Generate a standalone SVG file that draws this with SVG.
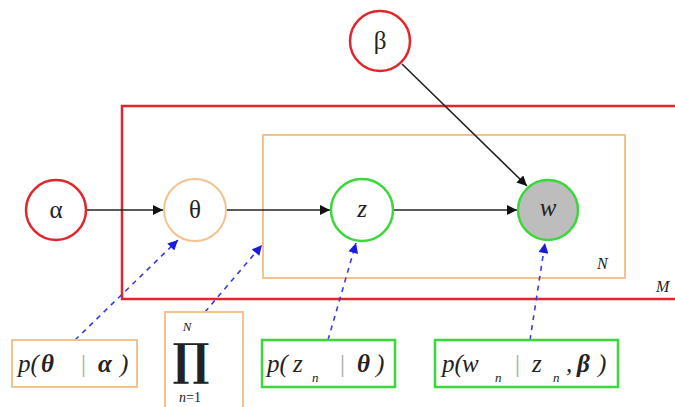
<svg xmlns="http://www.w3.org/2000/svg" width="675" height="407" viewBox="0 0 675 407">
<defs>
<style>
text{font-family:"Liberation Serif",serif}
.red{fill:#fff;stroke:#e0262c;stroke-width:2.5}
.ora{fill:none;stroke:#f4c28e;stroke-width:2}
.grn{fill:#fff;stroke:#3ad83a;stroke-width:2.5}
.lbl{fill:#222}
.sym{font-size:25px;text-anchor:middle}
.it{font-style:italic}
.bf{font-weight:bold;font-style:italic}
.f{font-size:25px;font-style:italic}
.sub{font-size:13px;font-style:italic}
.bar{fill:#aaa;font-style:normal}
.solid{stroke:#222;stroke-width:1.6;fill:none;marker-end:url(#ah)}
.dash{stroke:#3a3ae8;stroke-width:1.6;stroke-dasharray:5 5;fill:none;marker-end:url(#bh)}
.prod{font-size:44px;font-weight:bold;font-family:"DejaVu Serif",serif}
</style>
<marker id="ah" viewBox="0 0 10 10" refX="10" refY="5" markerWidth="13" markerHeight="10" markerUnits="userSpaceOnUse" orient="auto"><path d="M0,0 L10,5 L0,10 z" fill="#111"/></marker>
<marker id="bh" viewBox="0 0 10 10" refX="10" refY="5" markerWidth="13" markerHeight="10" markerUnits="userSpaceOnUse" orient="auto"><path d="M0,0 L10,5 L0,10 z" fill="#1a1ae0"/></marker>
</defs>
<rect width="675" height="407" fill="#fff"/>
<g id="plate-M">
<rect x="122" y="106" width="556" height="193" fill="none" stroke="#e0262c" stroke-width="2.5"/>
<text class="lbl it" x="656" y="292" font-size="16">M</text>
</g>
<g id="plate-N">
<rect class="ora" x="263" y="135" width="362" height="143"/>
<text class="lbl it" x="597" y="269" font-size="16">N</text>
</g>
<g id="connectors">
<line class="solid" x1="87" y1="210" x2="163" y2="210"/>
<line class="solid" x1="226" y1="210" x2="330" y2="210"/>
<line class="solid" x1="393" y1="210" x2="517" y2="210"/>
<line class="solid" x1="402" y1="64" x2="527" y2="186"/>
<line class="dash" x1="75" y1="340" x2="178" y2="240"/>
<line class="dash" x1="205" y1="312" x2="262" y2="245"/>
<line class="dash" x1="328" y1="340" x2="356" y2="243"/>
<line class="dash" x1="530" y1="340" x2="545" y2="243"/>
</g>
<g id="node-alpha">
<circle class="red" cx="56" cy="210" r="30"/>
<text class="lbl sym" x="56" y="218">α</text>
</g>
<g id="node-beta">
<circle class="red" cx="380" cy="41" r="30"/>
<text class="lbl sym" x="380" y="49">β</text>
</g>
<g id="node-theta">
<circle cx="195" cy="210" r="31" fill="#fff" stroke="#f4c28e" stroke-width="2"/>
<text class="lbl sym" x="195" y="218">θ</text>
</g>
<g id="node-z">
<circle class="grn" cx="362" cy="210" r="31"/>
<text class="lbl sym it" x="362" y="217">z</text>
</g>
<g id="node-w">
<circle cx="548" cy="210" r="30" fill="#bdbdbd" stroke="#3ad83a" stroke-width="2.5"/>
<text class="lbl sym it" x="548" y="216" font-size="20">w</text>
</g>
<g id="formula-theta">
<rect x="12" y="340" width="125" height="47" fill="#fff" stroke="#f4c28e" stroke-width="2"/>
<text class="lbl f" y="372"><tspan x="18">p(</tspan><tspan class="bf" x="41">θ</tspan><tspan class="bar" x="81">|</tspan><tspan class="bf" x="98">α</tspan><tspan x="120">)</tspan></text>
</g>
<g id="formula-prod">
<rect x="165" y="312" width="78" height="100" fill="#fff" stroke="#f4c28e" stroke-width="2"/>
<text class="lbl it" x="187" y="331" font-size="13" text-anchor="middle">N</text>
<text class="lbl prod" x="191" y="375" text-anchor="middle">∏</text>
<text class="lbl" x="190" y="402" font-size="14" text-anchor="middle"><tspan class="it">n</tspan>=1</text>
</g>
<g id="formula-z">
<rect x="262" y="340" width="133" height="47" fill="#fff" stroke="#3ad83a" stroke-width="2.5"/>
<text class="lbl f" y="372"><tspan x="267">p(</tspan><tspan x="293">z</tspan><tspan class="sub" x="312" y="382">n</tspan><tspan class="bar" x="340" y="372">|</tspan><tspan class="bf" x="357">θ</tspan><tspan x="376">)</tspan></text>
</g>
<g id="formula-w">
<rect x="435" y="340" width="183" height="47" fill="#fff" stroke="#3ad83a" stroke-width="2.5"/>
<text class="lbl f" y="372"><tspan x="442">p(</tspan><tspan x="462">w</tspan><tspan class="sub" x="495" y="382">n</tspan><tspan class="bar" x="515" y="372">|</tspan><tspan x="532">z</tspan><tspan class="sub" x="553" y="382">n</tspan><tspan x="566" y="372">,</tspan><tspan class="bf" x="577">β</tspan><tspan x="598">)</tspan></text>
</g>
</svg>
